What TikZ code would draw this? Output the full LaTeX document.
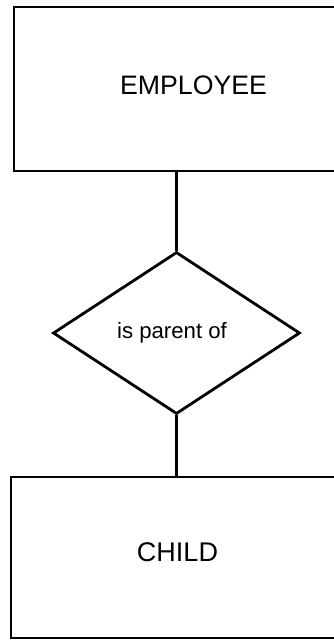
\documentclass[tikz,border=0pt]{standalone}
\usepackage{fontspec}
\setmainfont{Liberation Sans}
\usetikzlibrary{shapes.geometric}
\begin{document}
\begin{tikzpicture}[x=1pt,y=-1pt,
  entity/.style={draw=black,line width=2.6pt,rectangle,inner sep=0pt},
  rel/.style={draw=black,line width=2.8pt,diamond,inner sep=0pt,minimum width=247pt,minimum height=162pt},
  link/.style={draw=black,line width=2.3pt},
  lbl/.style={inner sep=0pt,text=black}]
\useasboundingbox (0,0) rectangle (334,640);
\clip (0,0) rectangle (334,640);
\node[entity,minimum width=336pt,minimum height=164pt] (emp) at (182,89) {};
\node[lbl,font=\fontsize{26.7}{32}\selectfont] (empt) at (193.5,85) {EMPLOYEE};
\node[rel] (dia) at (176.5,333) {};
\node[lbl,font=\fontsize{22.2}{27}\selectfont] (diat) at (172,333) {is parent of};
\node[entity,minimum width=340pt,minimum height=161pt] (chd) at (181,557.5) {};
\node[lbl,font=\fontsize{27}{32}\selectfont] (chdt) at (177.5,552.5) {CHILD};
\draw[link] (emp.south -| dia.north) -- (dia.north);
\draw[link] (dia.south) -- (dia.south |- chd.north);
\end{tikzpicture}
\end{document}
